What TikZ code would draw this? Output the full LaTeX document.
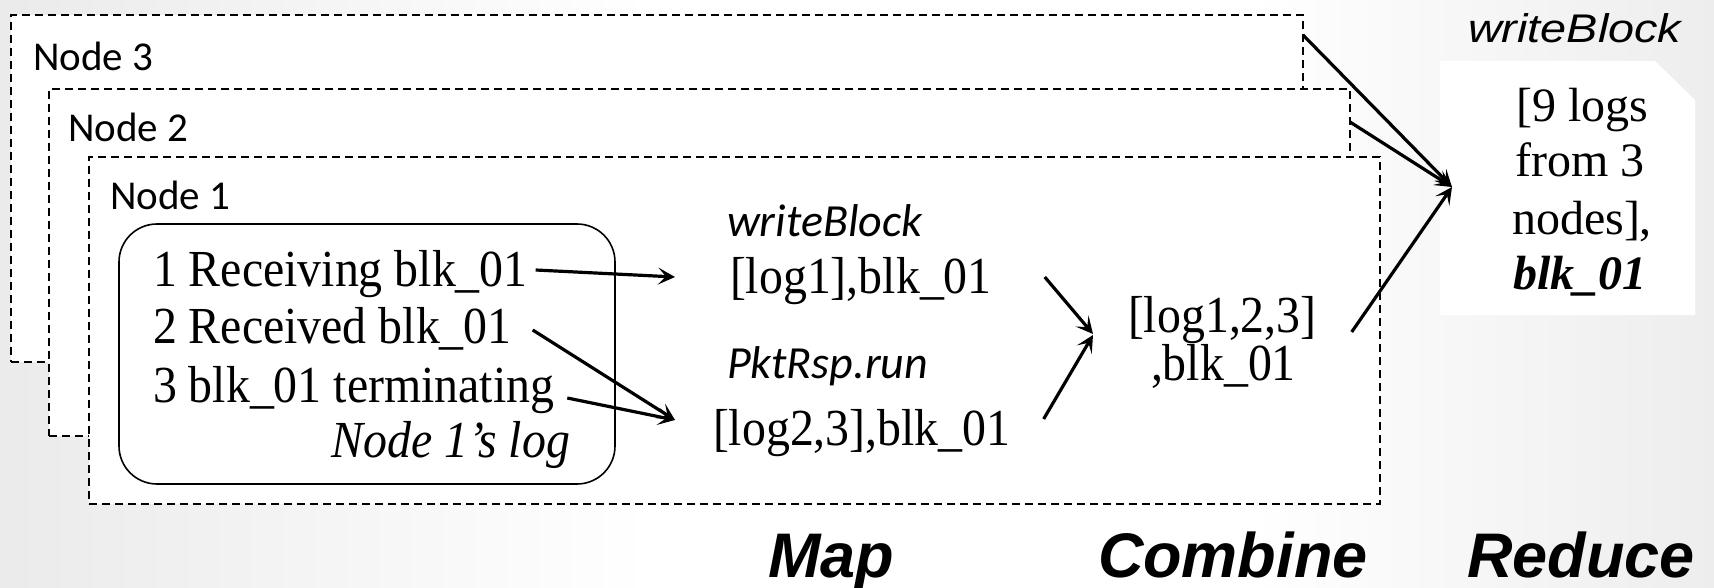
\documentclass[tikz,border=0pt]{standalone}
\usepackage{fontspec}
\setmainfont{Liberation Serif}
\newfontfamily\narrowserif[FakeStretch=0.92]{Liberation Serif}
\newfontfamily\calibrifont{Carlito}
\newfontfamily\arialfont{Liberation Sans}
\newfontfamily\arialwide[FakeStretch=1.17]{Liberation Sans}
\usetikzlibrary{arrows.meta}

\begin{document}
\begin{tikzpicture}[x=1pt,y=-1pt,
  every node/.style={inner sep=0pt, outer sep=0pt},
  nodebox/.style={draw, dash pattern=on 8pt off 5pt, line width=1.6pt,
    fill=white, anchor=north west, minimum height=347pt},
  logbox/.style={draw, line width=1.6pt, rounded corners=38pt, anchor=north west},
  lbl/.style={font={\calibrifont\fontsize{41pt}{49pt}\selectfont}, anchor=base west},
  fname/.style={font={\calibrifont\itshape\fontsize{46pt}{54pt}\selectfont}, anchor=base west},
  logline/.style={font={\narrowserif\fontsize{52pt}{60pt}\selectfont}, anchor=base west},
  redline/.style={font={\fontsize{48pt}{56pt}\selectfont}, anchor=base},
  phase/.style={font={\arialfont\bfseries\itshape\fontsize{63pt}{70pt}\selectfont}, anchor=base west},
  arr/.style={line width=3.2pt, -{Stealth[length=17pt,width=17pt,inset=8pt]}}
]
\useasboundingbox (0,0) rectangle (1714,588);

% soft page background: white centre, light grey edges
\fill[white] (0,0) rectangle (1714,588);
\shade[left color=black!8, right color=white] (0,0) rectangle (650,588);
\shade[left color=white, right color=black!7] (1250,0) rectangle (1714,588);
% white panel behind the reduce output
\fill[white] (1440,61) -- (1655,61) -- (1695,100) -- (1695,315) -- (1440,315) -- cycle;

% stacked node frames
\node[nodebox, minimum width=1292pt] (box3) at (11,15) {};
\node[lbl] (l3) at (33,71) {Node 3};
\node[nodebox, minimum width=1301pt] (box2) at (49,89) {};
\node[lbl] (l2) at (68,142) {Node 2};
\node[nodebox, minimum width=1291pt] (box1) at (89,157) {};
\node[lbl] (l1) at (110,210) {Node 1};

% node 1 log
\node[logbox, minimum width=496pt, minimum height=260pt] (logbox) at (119,224) {};
\node[logline] (rec1) at (153,287) {1 Receiving blk\_01};
\node[logline] (rec2) at (153,343) {2 Received blk\_01};
\node[logline] (rec3) at (153,402) {3 blk\_01 terminating};
\node[logline, font={\narrowserif\fontsize{52pt}{60pt}\selectfont\itshape}, anchor=base east] (logname) at (570,457) {Node 1’s log};

% map output
\node[fname] (f1) at (727,237) {writeBlock};
\node[logline] (m1) at (730,293) {[log1],blk\_01};
\node[fname] (f2) at (727,378) {PktRsp.run};
\node[logline] (m2) at (713,445) {[log2,3],blk\_01};

% combine output
\node[logline] (c1) at (1128,332) {[log1,2,3]};
\node[logline] (c2) at (1151,380) {,blk\_01};

% reduce output
\node[font={\arialwide\itshape\fontsize{40pt}{48pt}\selectfont}, anchor=base west] (f3) at (1468,43) {writeBlock};
\node[redline] (r1) at (1582,122) {[9 logs};
\node[redline] (r2) at (1580,177) {from 3};
\node[redline] (r3) at (1582,235) {nodes],};
\node[redline, font={\fontsize{48pt}{56pt}\selectfont\bfseries\itshape}] (r4) at (1580,290) {blk\_01};
\coordinate (rin) at (1452,187);

% phase captions
\node[phase] (pmap) at (768,577) {Map};
\node[phase] (pcomb) at (1098,577) {Combine};
\node[phase] (pred) at (1467,577) {Reduce};

% map arrows
\draw[arr] ([shift={(8,-17)}]rec1.base east) -- ([shift={(-55,-16)}]m1.base west);
\draw[arr] ([shift={(21,-13)}]rec2.base east) -- ([shift={(-38,-25)}]m2.base west);
\draw[arr] ([shift={(13,-4)}]rec3.base east) -- ([shift={(-38,-25)}]m2.base west);
% combine arrows
\draw[arr] ([shift={(53,-16)}]m1.base east) -- ([shift={(-35,2)}]c1.base west);
\draw[arr] ([shift={(33,-26)}]m2.base east) -- ([shift={(-35,3)}]c1.base west);
% reduce arrows
\draw[arr] ([yshift=-20pt]box3.north east) -- (rin);
\draw[arr] ([yshift=-33pt]box2.north east) -- (rin);
\draw[arr] ([shift={(35,0)}]c1.base east) -- (rin);
\end{tikzpicture}
\end{document}
